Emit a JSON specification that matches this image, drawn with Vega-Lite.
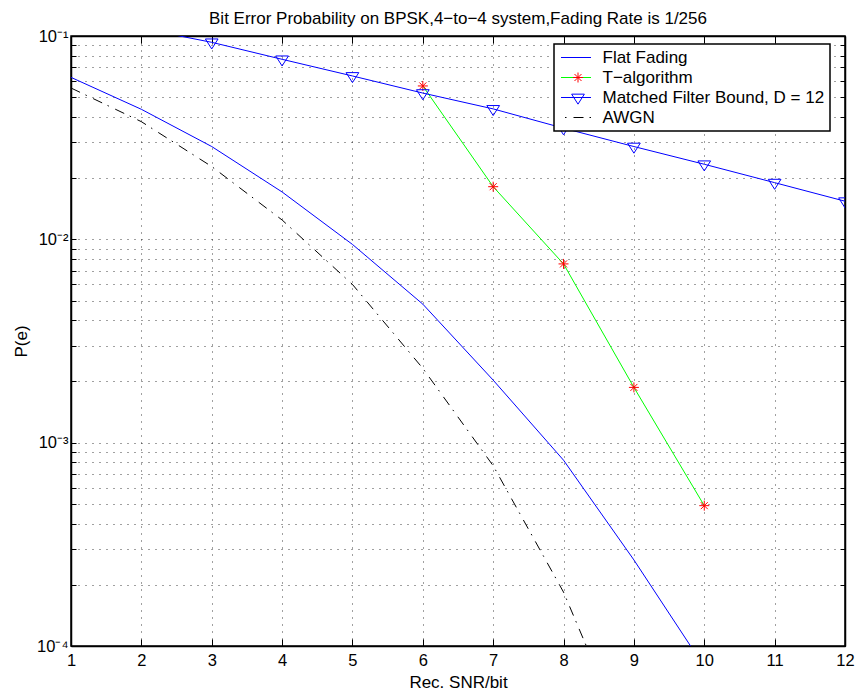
{
  "$schema": "https://vega.github.io/schema/vega-lite/v6.json",
  "width": 774,
  "height": 610,
  "autosize": {"type": "none"},
  "padding": {"left": 71, "top": 36, "right": 13, "bottom": 52},
  "background": "white",
  "title": {
    "text": "Bit Error Probability on BPSK,4−to−4 system,Fading Rate is 1/256",
    "font": "Liberation Sans",
    "fontSize": 17,
    "fontWeight": "normal",
    "color": "black",
    "anchor": "middle",
    "frame": "group",
    "baseline": "alphabetic",
    "offset": -13
  },
  "config": {
    "view": {"stroke": "black", "strokeWidth": 1.5},
    "font": "Liberation Sans",
    "axis": {
      "labelFont": "Liberation Sans",
      "labelFontSize": 16.5,
      "labelColor": "black",
      "titleFont": "Liberation Sans",
      "titleFontSize": 17,
      "titleFontWeight": "normal",
      "titleColor": "black",
      "tickColor": "black",
      "domainColor": "black",
      "domainWidth": 1.5,
      "gridColor": "#000000",
      "gridDash": [1, 6],
      "gridOpacity": 0.75,
      "gridWidth": 1,
      "labelOverlap": false,
      "labelFlush": false,
      "minExtent": 0
    }
  },
  "data": {
    "values": [
      {"series": "Flat Fading", "snr": 1, "p": 0.0626},
      {"series": "Flat Fading", "snr": 2, "p": 0.0436},
      {"series": "Flat Fading", "snr": 3, "p": 0.0286},
      {"series": "Flat Fading", "snr": 4, "p": 0.0171},
      {"series": "Flat Fading", "snr": 5, "p": 0.00944},
      {"series": "Flat Fading", "snr": 6, "p": 0.0048},
      {"series": "Flat Fading", "snr": 7, "p": 0.00203},
      {"series": "Flat Fading", "snr": 8, "p": 0.00082},
      {"series": "Flat Fading", "snr": 9, "p": 0.000265},
      {"series": "Flat Fading", "snr": 10, "p": 0.000079},
      {"series": "T−algorithm", "snr": 6, "p": 0.0568},
      {"series": "T−algorithm", "snr": 7, "p": 0.01815},
      {"series": "T−algorithm", "snr": 8, "p": 0.00757},
      {"series": "T−algorithm", "snr": 9, "p": 0.00187},
      {"series": "T−algorithm", "snr": 10, "p": 0.00049},
      {"series": "Matched Filter Bound, D = 12", "snr": 1, "p": 0.129},
      {"series": "Matched Filter Bound, D = 12", "snr": 2, "p": 0.109},
      {"series": "Matched Filter Bound, D = 12", "snr": 3, "p": 0.0931},
      {"series": "Matched Filter Bound, D = 12", "snr": 4, "p": 0.0768},
      {"series": "Matched Filter Bound, D = 12", "snr": 5, "p": 0.0636},
      {"series": "Matched Filter Bound, D = 12", "snr": 6, "p": 0.0524},
      {"series": "Matched Filter Bound, D = 12", "snr": 7, "p": 0.0438},
      {"series": "Matched Filter Bound, D = 12", "snr": 8, "p": 0.0352},
      {"series": "Matched Filter Bound, D = 12", "snr": 9, "p": 0.0286},
      {"series": "Matched Filter Bound, D = 12", "snr": 10, "p": 0.0234},
      {"series": "Matched Filter Bound, D = 12", "snr": 11, "p": 0.019},
      {"series": "Matched Filter Bound, D = 12", "snr": 12, "p": 0.0154},
      {"series": "AWGN", "snr": 1, "p": 0.0555},
      {"series": "AWGN", "snr": 2, "p": 0.0379},
      {"series": "AWGN", "snr": 3, "p": 0.0228},
      {"series": "AWGN", "snr": 4, "p": 0.01245},
      {"series": "AWGN", "snr": 5, "p": 0.006},
      {"series": "AWGN", "snr": 6, "p": 0.00232},
      {"series": "AWGN", "snr": 7, "p": 0.00077},
      {"series": "AWGN", "snr": 8, "p": 0.000184},
      {"series": "AWGN", "snr": 9, "p": 0.000028}
    ]
  },
  "layer": [
    {
      "mark": {"type": "line", "clip": true, "strokeWidth": 1},
      "encoding": {
        "x": {
          "field": "snr", "type": "quantitative",
          "scale": {"domain": [1, 12], "nice": false, "zero": false},
          "axis": {
            "orient": "bottom",
            "values": [1, 2, 3, 4, 5, 6, 7, 8, 9, 10, 11, 12],
            "title": "Rec. SNR/bit",
            "grid": true,
            "tickSize": -7,
            "labelPadding": 13,
            "labelBaseline": "top",
            "titleX": 387,
            "titleY": 36,
            "titleBaseline": "middle",
            "titleAlign": "center"
          }
        },
        "y": {
          "field": "p", "type": "quantitative",
          "scale": {"type": "log", "domain": [0.0001, 0.1], "nice": false},
          "axis": {
            "orient": "left",
            "values": [0.0001, 0.0002, 0.0003, 0.0004, 0.0005, 0.0006, 0.0007, 0.0008, 0.0009,
                       0.001, 0.002, 0.003, 0.004, 0.005, 0.006, 0.007, 0.008, 0.009,
                       0.01, 0.02, 0.03, 0.04, 0.05, 0.06, 0.07, 0.08, 0.09, 0.1],
            "labelExpr": "datum.value == 0.1 ? '10⁻¹' : datum.value == 0.01 ? '10⁻²' : datum.value == 0.001 ? '10⁻³' : datum.value == 0.0001 ? '10⁻⁴' : ''",
            "title": "P(e)",
            "grid": true,
            "tickSize": -5,
            "labelPadding": 8,
            "titleX": -50,
            "titleY": 305,
            "titleAngle": -90,
            "titleBaseline": "middle",
            "titleAlign": "center"
          }
        },
        "color": {
          "field": "series", "type": "nominal",
          "scale": {
            "domain": ["Flat Fading", "T−algorithm", "Matched Filter Bound, D = 12", "AWGN"],
            "range": ["#0000ff", "#00ff00", "#0000ff", "#000000"]
          },
          "legend": {
            "orient": "none", "legendX": 483, "legendY": 8,
            "title": null, "padding": 5,
            "fillColor": "white", "strokeColor": "black",
            "symbolType": "M-3,0L3,0", "symbolSize": 100, "symbolStrokeWidth": 1,
            "symbolDashOffset": 12,
            "symbolOffset": 8.5, "labelOffset": 18,
            "labelFont": "Liberation Sans", "labelFontSize": 17, "labelColor": "black",
            "labelLimit": 400, "rowPadding": 2,
            "encode": {"legend": {"update": {"strokeWidth": {"value": 1.5}}}}
          }
        },
        "strokeDash": {
          "field": "series", "type": "nominal",
          "scale": {
            "domain": ["Flat Fading", "T−algorithm", "Matched Filter Bound, D = 12", "AWGN"],
            "range": [[2000, 1], [2000, 1], [2000, 1], [10, 6, 1.5, 7]]
          },
          "legend": {
            "orient": "none", "legendX": 483, "legendY": 8,
            "title": null, "padding": 5,
            "fillColor": "white", "strokeColor": "black",
            "symbolType": "M-3,0L3,0", "symbolSize": 100, "symbolStrokeWidth": 1,
            "symbolDashOffset": 12,
            "symbolOffset": 8.5, "labelOffset": 18,
            "labelFont": "Liberation Sans", "labelFontSize": 17, "labelColor": "black",
            "labelLimit": 400, "rowPadding": 2,
            "encode": {"legend": {"update": {"strokeWidth": {"value": 1.5}}}}
          }
        }
      }
    },
    {
      "transform": [{"filter": {"field": "series", "oneOf": ["T−algorithm", "Matched Filter Bound, D = 12"]}}],
      "mark": {"type": "point", "filled": false, "clip": true, "size": 100, "strokeWidth": 1, "opacity": 1},
      "encoding": {
        "x": {
          "field": "snr", "type": "quantitative",
          "scale": {"domain": [1, 12], "nice": false, "zero": false},
          "axis": {
            "orient": "top", "values": [1, 2, 3, 4, 5, 6, 7, 8, 9, 10, 11, 12],
            "labels": false, "title": null, "grid": false, "tickSize": -7, "minExtent": 0
          }
        },
        "y": {
          "field": "p", "type": "quantitative",
          "scale": {"type": "log", "domain": [0.0001, 0.1], "nice": false},
          "axis": {
            "orient": "right",
            "values": [0.0001, 0.0002, 0.0003, 0.0004, 0.0005, 0.0006, 0.0007, 0.0008, 0.0009,
                       0.001, 0.002, 0.003, 0.004, 0.005, 0.006, 0.007, 0.008, 0.009,
                       0.01, 0.02, 0.03, 0.04, 0.05, 0.06, 0.07, 0.08, 0.09, 0.1],
            "labels": false, "title": null, "grid": false, "tickSize": -5, "minExtent": 0
          }
        },
        "stroke": {
          "field": "series", "type": "nominal",
          "scale": {
            "domain": ["T−algorithm", "Matched Filter Bound, D = 12"],
            "range": ["#ff0000", "#0000ff"]
          },
          "legend": {
            "orient": "none", "legendX": 483, "legendY": 28,
            "title": null, "padding": 5,
            "symbolSize": 100, "symbolStrokeWidth": 1,
            "symbolOffset": 10.5, "labelOffset": 33,
            "labelFont": "Liberation Sans", "labelFontSize": 17, "labelOpacity": 0,
            "labelExpr": "''",
            "labelLimit": 400, "rowPadding": 2
          }
        },
        "shape": {
          "field": "series", "type": "nominal",
          "scale": {
            "domain": ["T−algorithm", "Matched Filter Bound, D = 12"],
            "range": ["M-1,0L1,0M0,-1L0,1M-0.7,-0.7L0.7,0.7M-0.7,0.7L0.7,-0.7", "M-1.27,-0.67L1.27,-0.67L0,1.33Z"]
          },
          "legend": {
            "orient": "none", "legendX": 483, "legendY": 28,
            "title": null, "padding": 5,
            "symbolSize": 100, "symbolStrokeWidth": 1,
            "symbolOffset": 10.5, "labelOffset": 33,
            "labelFont": "Liberation Sans", "labelFontSize": 17, "labelOpacity": 0,
            "labelExpr": "''",
            "labelLimit": 400, "rowPadding": 2
          }
        }
      }
    }
  ],
  "resolve": {"axis": {"x": "independent", "y": "independent"}}
}
